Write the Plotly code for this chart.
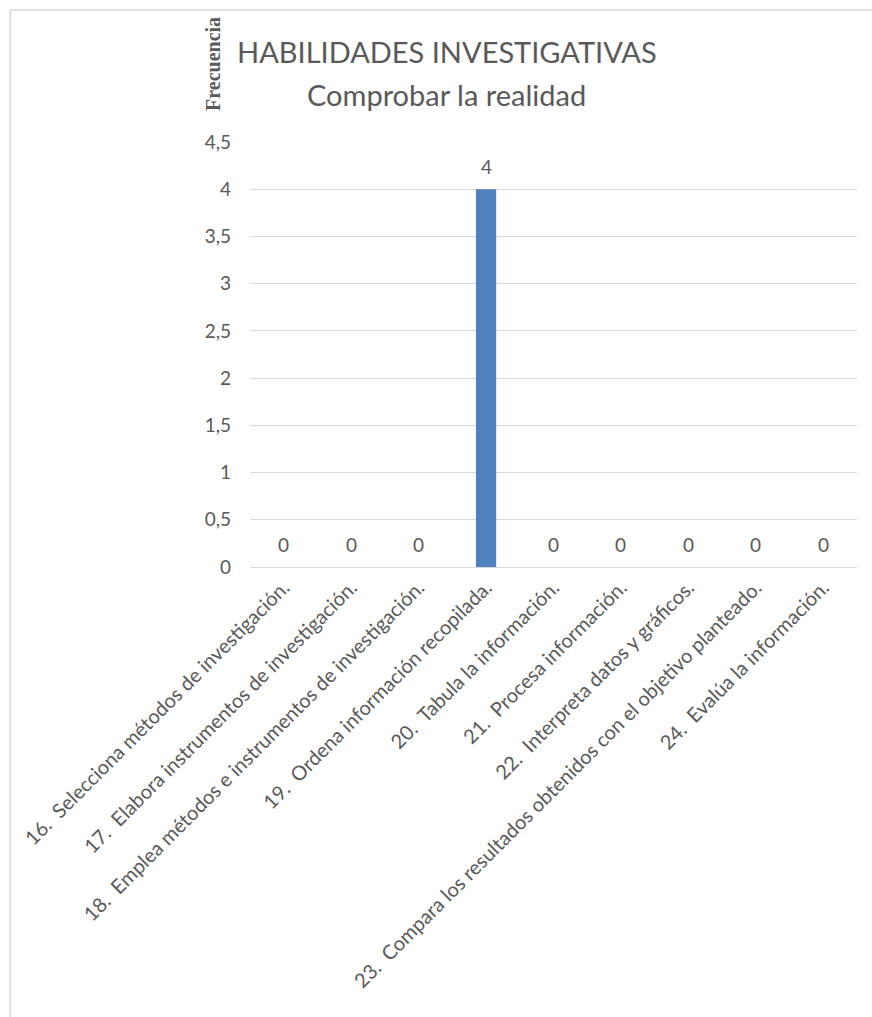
import plotly.graph_objects as go

categories = [
    "16.  Selecciona métodos de investigación.",
    "17.  Elabora instrumentos de investigación.",
    "18.  Emplea métodos e instrumentos de investigación.",
    "19.  Ordena información recopilada.",
    "20.  Tabula la información.",
    "21.  Procesa información.",
    "22.  Interpreta datos y gráficos.",
    "23.  Compara los resultados obtenidos con el objetivo planteado.",
    "24.  Evalúa la información.",
]
values = [0, 0, 0, 4, 0, 0, 0, 0, 0]
y_tickvals = [0, 0.5, 1, 1.5, 2, 2.5, 3, 3.5, 4, 4.5]
y_ticktext = ["0", "0,5", "1", "1,5", "2", "2,5", "3", "3,5", "4", "4,5"]

FONT = "Lato"
GREY = "#595959"

fig = go.Figure(
    go.Bar(
        x=categories,
        y=values,
        marker=dict(color="#4F81BD", line=dict(width=0)),
        width=0.3,
        cliponaxis=False,
    )
)

annotations = [
    dict(x=c, y=v, text=str(v), xref="x", yref="y", showarrow=False,
         yanchor="middle", yshift=23,
         font=dict(family=FONT, size=19, color=GREY))
    for c, v in zip(categories, values)
]
annotations += [
    dict(text="HABILIDADES INVESTIGATIVAS", xref="paper", yref="paper",
         x=0.3245, y=1.2118, xanchor="center", yanchor="middle", showarrow=False,
         font=dict(family=FONT, size=29, color=GREY)),
    dict(text="Comprobar la realidad", xref="paper", yref="paper",
         x=0.3245, y=1.1106, xanchor="center", yanchor="middle", showarrow=False,
         font=dict(family=FONT, size=29, color=GREY)),
    dict(text="<b>Frecuencia</b>", textangle=-90, xref="paper", yref="paper",
         x=-0.061, y=1.2988, xanchor="center", yanchor="top", showarrow=False,
         font=dict(family="Liberation Serif", size=20, color=GREY)),
]

fig.update_layout(
    width=872,
    height=1017,
    margin=dict(l=250, r=15, t=142, b=450),
    paper_bgcolor="white",
    plot_bgcolor="white",
    showlegend=False,
    font=dict(family=FONT, color=GREY),
    xaxis=dict(
        tickangle=-45,
        tickfont=dict(family=FONT, size=20, color=GREY),
        showgrid=False,
        showline=True,
        linecolor="#D9D9D9",
        ticks="",
    ),
    yaxis=dict(
        range=[0, 4.5],
        tickvals=y_tickvals,
        ticktext=y_ticktext,
        tickfont=dict(family=FONT, size=19, color=GREY),
        showgrid=True,
        gridcolor="#D9D9D9",
        zeroline=False,
        showline=False,
        ticks="",
        ticklabelstandoff=18,
    ),
    shapes=[
        dict(type="line", xref="paper", yref="paper", x0=-0.395, x1=1.03, y0=1.3106, y1=1.3106,
             line=dict(color="#D9D9D9", width=1.5)),
        dict(type="line", xref="paper", yref="paper", x0=-0.395, x1=-0.395, y0=1.3106, y1=-1.06,
             line=dict(color="#D9D9D9", width=1.5)),
    ],
    annotations=annotations,
)

fig.write_html("out.html")
